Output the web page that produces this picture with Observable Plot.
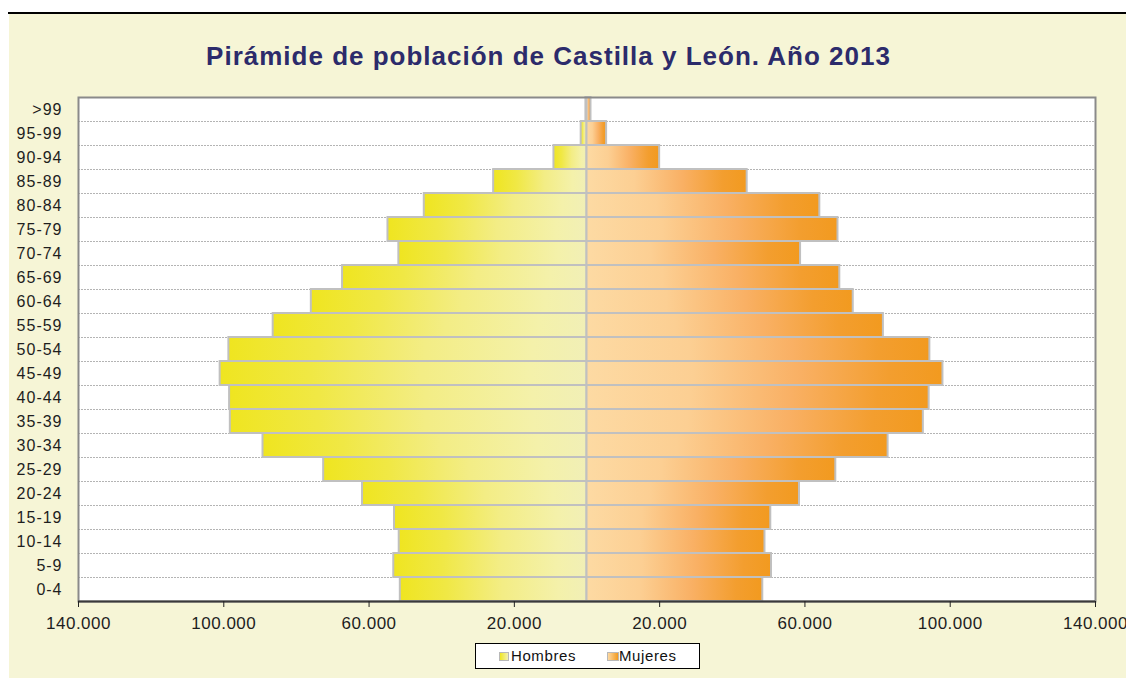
<!DOCTYPE html>
<html>
<head>
<meta charset="utf-8">
<script src="https://cdn.jsdelivr.net/npm/d3@7"></script>
<script src="https://cdn.jsdelivr.net/npm/@observablehq/plot@0.6"></script>
<style>
  html, body { margin: 0; padding: 0; background: #ffffff; }
  body { width: 1126px; height: 679px; position: relative; overflow: hidden; font-family: "Liberation Sans", Arial, sans-serif; }
  #topline { position: absolute; left: 8px; top: 12px; width: 1118px; height: 2px; background: #000; }
  #panel { position: absolute; left: 9px; top: 14px; width: 1117px; height: 664px; background: #f6f5d6; }
  #title { position: absolute; left: 0; top: 43px; width: 1097px; text-align: center; font-size: 26px; line-height: 26px; font-weight: bold; color: #2c2b6b; white-space: nowrap; letter-spacing: 1px; }
  #chart { position: absolute; left: 0; top: 0; }
  #chart svg { background: transparent; }
  #chart g[aria-label="y-axis tick label"] text { letter-spacing: 1px; }
  #chart g[aria-label="x-axis tick label"] text { letter-spacing: 0.5px; }
  #legend { position: absolute; left: 475px; top: 643px; width: 225px; height: 26px; box-sizing: border-box; border: 1px solid #000; background: #fff; }
  .sw { position: absolute; top: 8px; width: 8px; height: 7px; border: 1px solid #b8b8b8; }
  .lt { position: absolute; top: 3px; font-size: 15px; line-height: 17px; color: #111; letter-spacing: 0.6px; }
</style>
</head>
<body>
<div id="topline"></div>
<div id="panel"></div>
<div id="chart"></div>
<div id="title">Pirámide de población de Castilla y León. Año 2013</div>
<div id="legend">
  <div class="sw" style="left:23px;background:linear-gradient(90deg,#efe621,#f3f0b0);"></div>
  <div class="lt" style="left:35px;">Hombres</div>
  <div class="sw" style="left:131px;width:10px;background:linear-gradient(90deg,#fdd9a2,#f29a1f);"></div>
  <div class="lt" style="left:143px;">Mujeres</div>
</div>
<script>
// Age groups, top to bottom
const ages = [">99","95-99","90-94","85-89","80-84","75-79","70-74","65-69","60-64","55-59","50-54",
              "45-49","40-44","35-39","30-34","25-29","20-24","15-19","10-14","5-9","0-4"];
// Population (persons)
const hombres = [300, 1600, 9100, 25700, 44800, 54800, 51800, 67300, 75900, 86400, 98600,
                 101000, 98400, 98200, 89200, 72500, 61800, 53000, 51700, 53200, 51400];
const mujeres = [1100, 5400, 20000, 44100, 64100, 69100, 58800, 69600, 73300, 81600, 94400,
                 98000, 94200, 92600, 82900, 68500, 58500, 50600, 49000, 50800, 48400];
const xTicks = [-140000, -100000, -60000, -20000, 20000, 60000, 100000, 140000];
const xDomain = [-140000, 140000];

const rows = ages.map((age, i) => ({age, i, h: hombres[i], m: mujeres[i]}));
const fmt = d => d3.format(",")(Math.abs(d)).replace(/,/g, ".");

const plot = Plot.plot({
  width: 1126,
  height: 640,
  marginTop: 97,
  marginBottom: 39,
  marginLeft: 78,
  marginRight: 31,
  style: {fontFamily: "'Liberation Sans', Arial, sans-serif", fontSize: "16px", color: "#1e1e1e", background: "transparent"},
  x: {domain: xDomain},
  y: {domain: [0, ages.length], reverse: true},
  marks: [
    Plot.frame({fill: "white", stroke: "none"}),
    Plot.ruleY(d3.range(1, ages.length), {stroke: "#b4b4b4", strokeDasharray: "2,1", strokeWidth: 1}),
    Plot.rect(rows, {x1: 0, x2: d => -d.h, y1: "i", y2: d => d.i + 1, fill: "url(#gradH)", stroke: "#c0c0c0", strokeWidth: 2}),
    Plot.rect(rows, {x1: 0, x2: "m", y1: "i", y2: d => d.i + 1, fill: "url(#gradM)", stroke: "#c0c0c0", strokeWidth: 2}),
    Plot.frame({stroke: "#8a8a8a", strokeWidth: 2}),
    Plot.ruleY([ages.length], {stroke: "#3a3a3a", strokeWidth: 2}),
    Plot.axisX({ticks: xTicks, tickFormat: fmt, tickSize: 6, tickPadding: 9, fontSize: 17, label: null, stroke: "#222"}),
    Plot.axisY({ticks: ages.map((a, i) => i + 0.5), tickFormat: d => ages[Math.floor(d)], tickSize: 0, tickPadding: 16, fontSize: 16, label: null})
  ]
});

// gradient definitions
const ns = "http://www.w3.org/2000/svg";
const defs = document.createElementNS(ns, "defs");
function grad(id, stops) {
  const g = document.createElementNS(ns, "linearGradient");
  g.setAttribute("id", id);
  g.setAttribute("x1", "0"); g.setAttribute("x2", "1");
  g.setAttribute("y1", "0"); g.setAttribute("y2", "0");
  for (const [o, c] of stops) {
    const s = document.createElementNS(ns, "stop");
    s.setAttribute("offset", o);
    s.setAttribute("stop-color", c);
    g.appendChild(s);
  }
  defs.appendChild(g);
}
grad("gradH", [[0, "#efe520"], [0.25, "#f0e845"], [0.55, "#f3ed85"], [0.85, "#f4f1aa"], [1, "#f1efb6"]]);
grad("gradM", [[0, "#fddaa3"], [0.3, "#fccf93"], [0.6, "#f9b064"], [0.85, "#f39e2f"], [1, "#f29a1f"]]);
plot.insertBefore(defs, plot.firstChild);

document.getElementById("chart").appendChild(plot);
</script>
</body>
</html>
